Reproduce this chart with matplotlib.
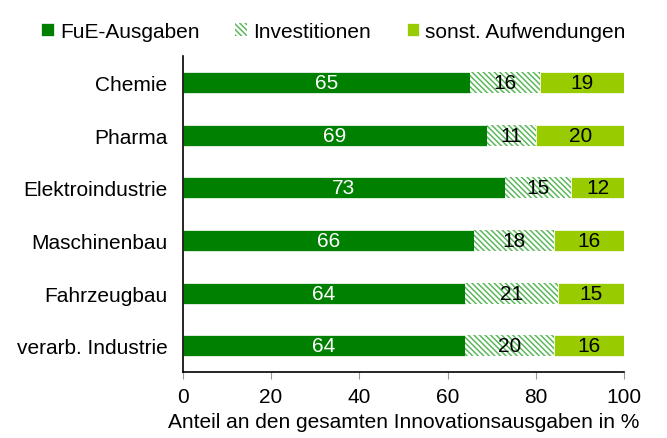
import matplotlib.pyplot as plt
import numpy as np

plt.rcParams['font.family'] = ['Liberation Sans', 'DejaVu Sans']
plt.rcParams['hatch.linewidth'] = 1.1

# Daten
branchen = ['Chemie', 'Pharma', 'Elektroindustrie', 'Maschinenbau',
            'Fahrzeugbau', 'verarb. Industrie']
fue = [65, 69, 73, 66, 64, 64]
invest = [16, 11, 15, 18, 21, 20]
sonst = [19, 20, 12, 16, 15, 16]

dunkelgruen = '#008000'
hellgruen = '#99cc00'
schraffur = '#5cb85c'

fig = plt.figure(figsize=(6.67, 4.39), dpi=100)
ax = fig.add_axes([0.274, 0.150, 0.662, 0.720])

y = np.arange(len(branchen))
h = 0.4
fue_a = np.array(fue)
inv_a = np.array(invest)
son_a = np.array(sonst)

b1 = ax.barh(y, fue_a, height=h, color=dunkelgruen, edgecolor='white',
             linewidth=0.5, label='FuE-Ausgaben')
b2 = ax.barh(y, inv_a, left=fue_a, height=h, color='white',
             edgecolor=schraffur, hatch='\\' * 6, linewidth=0,
             label='Investitionen')
b3 = ax.barh(y, son_a, left=fue_a + inv_a, height=h, color=hellgruen,
             edgecolor='white', linewidth=0.5, label='sonst. Aufwendungen')

fs = 15
ax.bar_label(b1, labels=[str(v) for v in fue], label_type='center',
             color='white', fontsize=fs)
ax.bar_label(b2, labels=[str(v) for v in invest], label_type='center',
             color='black', fontsize=fs)
ax.bar_label(b3, labels=[str(v) for v in sonst], label_type='center',
             color='black', fontsize=fs)

ax.set_xlim(0, 100)
ax.set_ylim(len(branchen) - 0.5, -0.5)
ax.set_yticks(y)
ax.set_yticklabels(branchen, fontsize=fs)
ax.set_xticks([0, 20, 40, 60, 80, 100])
ax.tick_params(axis='x', labelsize=fs, color='#999999', length=5, direction='out',
               pad=6)
ax.tick_params(axis='y', length=0, pad=11)
ax.set_xlabel('Anteil an den gesamten Innovationsausgaben in %', fontsize=fs,
              labelpad=4)

for s in ['top', 'right']:
    ax.spines[s].set_visible(False)
for s in ['left', 'bottom']:
    ax.spines[s].set_linewidth(1.2)

fig.legend(handles=[b1, b2, b3], loc='center', bbox_to_anchor=(0.5, 0.927),
           ncol=3, frameon=False, fontsize=fs, handlelength=0.6,
           handleheight=0.6, handletextpad=0.3, columnspacing=1.7)

fig.savefig('out.png', dpi=100)
